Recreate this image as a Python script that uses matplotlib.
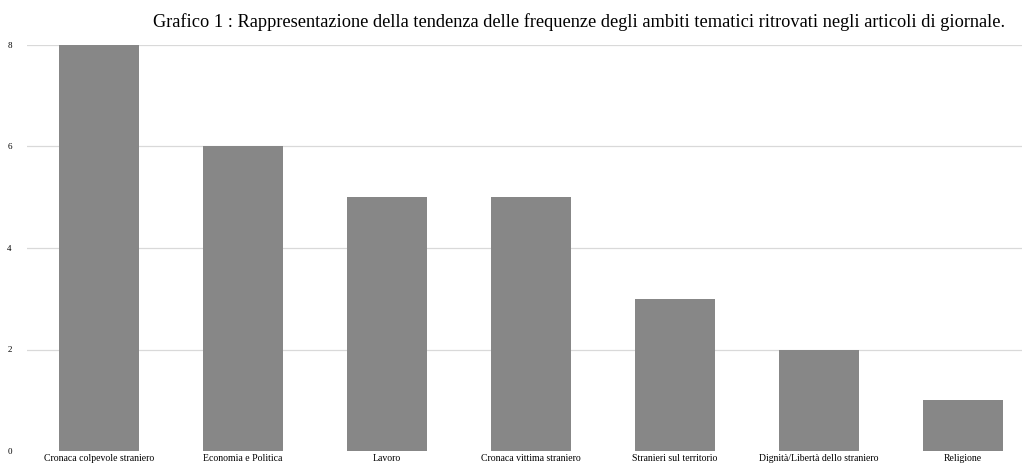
import matplotlib.pyplot as plt

categories = ["Cronaca colpevole straniero", "Economia e Politica", "Lavoro",
              "Cronaca vittima straniero", "Stranieri sul territorio",
              "Dignità/Libertà dello straniero", "Religione"]
values = [8, 6, 5, 5, 3, 2, 1]
yticks = [0, 2, 4, 6, 8]

plt.rcParams['font.family'] = ['Liberation Serif', 'DejaVu Serif']

fig = plt.figure(figsize=(10.22, 4.65), dpi=100)
ax = fig.add_axes([27 / 1022, 14 / 465, 1 - 27 / 1022, (451 - 45) / 465])

x = range(len(categories))
ax.bar(x, values, width=0.556, color='#878787', zorder=2)
ax.set_xlim(-0.5, 6.41)
ax.set_ylim(0, 8)
ax.set_yticks(yticks)
ax.set_yticklabels([str(v) for v in yticks], fontsize=6.5)
ax.set_xticks(list(x))
ax.set_xticklabels(categories, fontsize=7)
ax.tick_params(axis='both', length=0)
ax.tick_params(axis='y', pad=11)
ax.tick_params(axis='x', pad=2)
for s in ax.spines.values():
    s.set_visible(False)
for v in yticks[1:]:
    ax.axhline(v, color='#d9d9d9', lw=0.9, zorder=1)

fig.text(0.567, 0.952, "Grafico 1 : Rappresentazione della tendenza delle frequenze degli ambiti tematici ritrovati negli articoli di giornale.",
         ha='center', va='center', fontsize=13.2)

fig.savefig('out.png', dpi=100)
